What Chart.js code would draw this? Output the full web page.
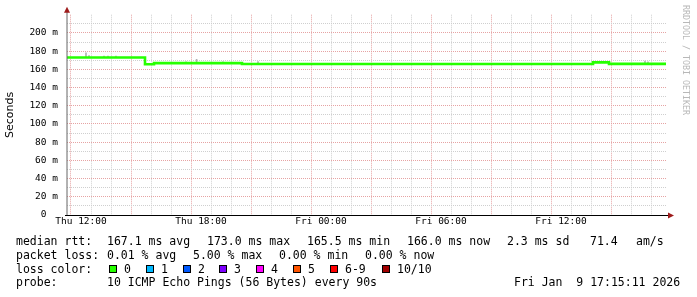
<!DOCTYPE html>
<html>
<head>
<meta charset="utf-8">
<script src="https://cdn.jsdelivr.net/npm/chart.js@4/dist/chart.umd.min.js"></script>
<style>
  html, body { margin: 0; padding: 0; background: #fff; }
  #wrap { width: 697px; height: 297px; }
</style>
</head>
<body>
<div id="wrap"><canvas id="ping" width="697" height="297"></canvas></div>
<script>
// median rtt (ms), each value holds until the next change; x = hours since Thu 00:00
const rttHours  = [11.3, 15.2, 15.65, 20.05, 37.6, 38.4, 41.25];
const rttValues = [173.0, 165.5, 166.8, 165.8, 167.6, 166.0, 166.0];

// the few bits of smoke visible above the median
const smokeHours = [12.25, 12.4, 13.15, 13.35, 13.75, 17.25, 17.78, 19.1, 20.85, 40.2, 40.35];
const smokeLow   = [173.5, 173.5, 173.5, 173.5, 173.5, 167.3, 167.3, 167.3, 166.3, 166.5, 166.5];
const smokeHigh  = [178.0, 175.0, 174.5, 174.5, 174.5, 168.3, 171.0, 168.3, 168.5, 169.0, 168.3];

// axes
const xMin = 11.3, xMax = 41.3;
const xTickHours  = [12, 18, 24, 30, 36];
const xTickLabels = ['Thu 12:00', 'Thu 18:00', 'Fri 00:00', 'Fri 06:00', 'Fri 12:00'];
const yMax = 220;
const yTickValues = [0, 20, 40, 60, 80, 100, 120, 140, 160, 180, 200];
const yTickLabels = ['0  ', '20 m', '40 m', '60 m', '80 m', '100 m', '120 m', '140 m', '160 m', '180 m', '200 m'];

// legend
const lossLabels = ['0', '1', '2', '3', '4', '5', '6-9', '10/10'];
const lossColors = ['#26ff00', '#00b8ff', '#0059ff', '#7e00ff', '#ff00fe', '#ff5500', '#ff0000', '#a10000'];
const rttStats  = ['167.1 ms avg', '173.0 ms max', '165.5 ms min', '166.0 ms now', '2.3 ms sd', '71.4', 'am/s'];
const lossStats = ['0.01 % avg', '5.00 % max', '0.00 % min', '0.00 % now'];
const probeText = '10 ICMP Echo Pings (56 Bytes) every 90s';
const stampText = 'Fri Jan  9 17:15:11 2026';

const MONO = '"DejaVu Sans Mono", monospace';
const MAJOR = '#e6a3a3';
const MINOR = '#cfcfcf';

// grid: every hour / every 10 ms
function hourTicks(axis) {
    const t = [];
    for (let h = Math.ceil(xMin); h <= xMax; h++) t.push({ value: h });
    axis.ticks = t;
}
function msTicks(axis) {
    const t = [];
    for (let v = 0; v < yMax; v += 10) t.push({ value: v });
    axis.ticks = t;
}

// axes, arrows, legend text and watermark
const decor = {
    id: 'decor',
    beforeDraw(chart) {
        const ctx = chart.ctx;
        ctx.save();
        ctx.fillStyle = '#fff';
        ctx.fillRect(0, 0, chart.width, chart.height);
        ctx.restore();
    },
    afterDraw(chart) {
        const ctx = chart.ctx;
        const a = chart.chartArea;
        ctx.save();

        // y axis
        ctx.strokeStyle = '#666';
        ctx.lineWidth = 1;
        ctx.beginPath();
        ctx.moveTo(a.left, a.bottom);
        ctx.lineTo(a.left, a.top - 3);
        ctx.stroke();
        // x axis
        ctx.strokeStyle = '#000';
        ctx.beginPath();
        ctx.moveTo(a.left - 2, a.bottom + 0.5);
        ctx.lineTo(a.right + 2, a.bottom + 0.5);
        ctx.stroke();

        ctx.fillStyle = '#9e1b1b';
        ctx.beginPath();
        ctx.moveTo(a.left - 3, a.top - 2);
        ctx.lineTo(a.left + 3, a.top - 2);
        ctx.lineTo(a.left, a.top - 8);
        ctx.closePath();
        ctx.fill();
        ctx.beginPath();
        ctx.moveTo(a.right + 1, a.bottom - 2.5);
        ctx.lineTo(a.right + 1, a.bottom + 3.5);
        ctx.lineTo(a.right + 7, a.bottom + 0.5);
        ctx.closePath();
        ctx.fill();

        // legend lines
        ctx.fillStyle = '#000';
        ctx.font = '11.5px ' + MONO;
        ctx.textBaseline = 'alphabetic';
        ctx.textAlign = 'left';
        ctx.fillText('median rtt:', 16, 245);
        const rttX = [107, 207, 307, 407, 507, 590, 636];
        rttStats.forEach((s, i) => ctx.fillText(s, rttX[i], 245));

        ctx.fillText('packet loss:', 16, 259);
        const lossX = [107, 193, 279, 365];
        lossStats.forEach((s, i) => ctx.fillText(s, lossX[i], 259));

        ctx.fillText('loss color:', 16, 273);
        const boxX = [109, 146, 183, 219, 256, 293, 330, 382];
        lossLabels.forEach((s, i) => {
            ctx.fillStyle = lossColors[i];
            ctx.fillRect(boxX[i], 265, 8, 8);
            ctx.strokeStyle = '#000';
            ctx.strokeRect(boxX[i] + 0.5, 265.5, 7, 7);
            ctx.fillStyle = '#000';
            ctx.fillText(s, boxX[i] + 15, 273);
        });

        ctx.fillText('probe:', 16, 286);
        ctx.fillText(probeText, 107, 286);
        ctx.fillText(stampText, 514, 286);

        // vertical watermark
        ctx.translate(685, 5);
        ctx.rotate(Math.PI / 2);
        ctx.fillStyle = '#b8b8b8';
        ctx.font = '8.3px ' + MONO;
        ctx.textBaseline = 'middle';
        ctx.fillText('RRDTOOL / TOBI OETIKER', 0, 0);

        ctx.restore();
    }
};

new Chart(document.getElementById('ping'), {
    type: 'line',
    data: {
        datasets: [
            {
                type: 'line',
                data: rttHours.map((h, i) => ({ x: h, y: rttValues[i] })),
                borderColor: '#26ff00',
                borderWidth: 2.6,
                pointRadius: 0,
                stepped: true,
                fill: false,
                order: 0
            },
            {
                type: 'bar',
                data: smokeHours.map((h, i) => ({ x: h, y: [smokeLow[i], smokeHigh[i]] })),
                backgroundColor: '#b0b0b0',
                barThickness: 1,
                order: 1
            }
        ]
    },
    options: {
        responsive: false,
        animation: false,
        layout: { padding: { left: 0, right: 30, top: 13, bottom: 67 } },
        plugins: { legend: { display: false }, tooltip: { enabled: false } },
        scales: {
            x: {
                type: 'linear',
                min: xMin,
                max: xMax,
                offset: false,
                afterBuildTicks: hourTicks,
                afterFit: (axis) => { axis.height = 15; },
                grid: {
                    drawTicks: false,
                    color: (c) => (c.tick && c.tick.value % 3 === 0) ? MAJOR : MINOR
                },
                border: { display: false, dash: [1, 1] },
                ticks: {
                    autoSkip: false,
                    maxRotation: 0,
                    padding: 1,
                    color: '#000',
                    font: { family: MONO, size: 9.5 },
                    callback: (v) => {
                        const k = xTickHours.indexOf(v);
                        return k < 0 ? '' : xTickLabels[k];
                    }
                }
            },
            y: {
                min: 0,
                max: yMax,
                afterBuildTicks: msTicks,
                afterFit: (axis) => { axis.width = 67; },
                grid: {
                    drawTicks: false,
                    color: (c) => (c.tick && c.tick.value % 20 === 0) ? MAJOR : MINOR
                },
                border: { display: false, dash: [1, 1] },
                title: {
                    display: true,
                    text: 'Seconds',
                    color: '#000',
                    font: { family: '"DejaVu Sans", sans-serif', size: 11 },
                    padding: { top: 4, bottom: 0 }
                },
                ticks: {
                    autoSkip: false,
                    padding: 9,
                    color: '#000',
                    font: { family: MONO, size: 9.5 },
                    callback: (v) => {
                        const k = yTickValues.indexOf(v);
                        return k < 0 ? '' : yTickLabels[k];
                    }
                }
            }
        }
    },
    plugins: [decor]
});
</script>
</body>
</html>
